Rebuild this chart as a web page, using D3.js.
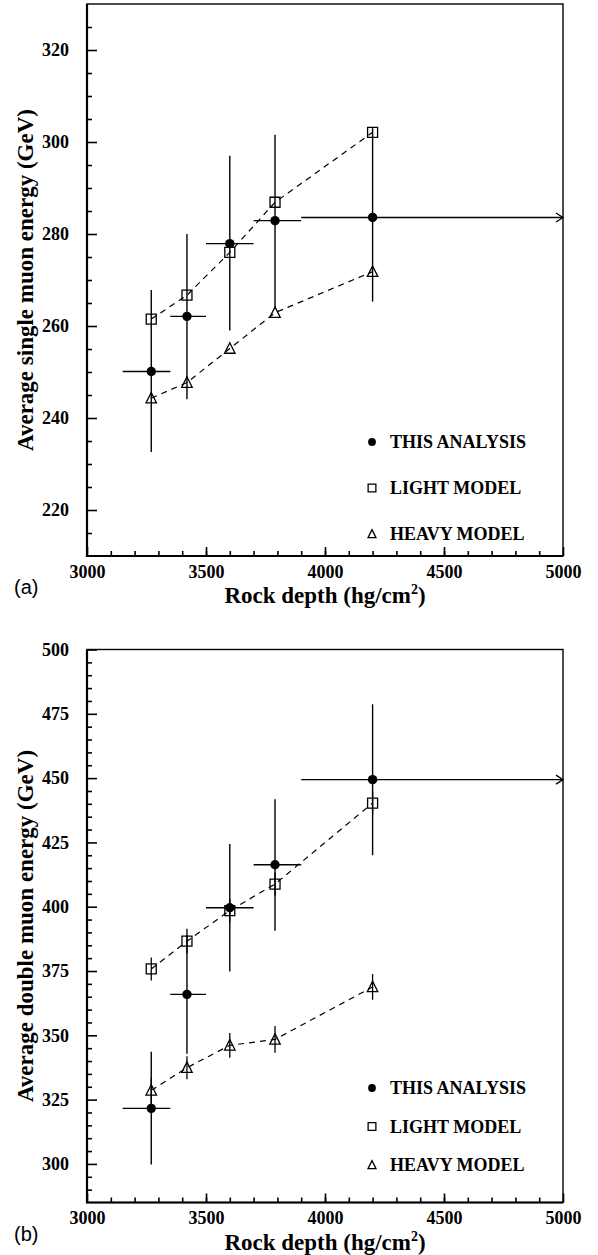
<!doctype html>
<html lang="en">
<head>
    <title>Muon energy vs rock depth</title>
    <script src="https://d3js.org/d3.v7.min.js"></script>
    <style>
        body { margin: 0; background: #fff; }
        svg text { font-family: "Liberation Serif", "Times New Roman", serif; font-weight: bold; fill: #000; }
    </style>
</head>
<body>
<script>
    // ---- Data ----
    const depth   = [3270, 3420, 3600, 3790, 4200];
    const depthLo = [3150, 3350, 3500, 3700, 3900];
    const depthHi = [3350, 3500, 3700, 3900, 5000];   // last bin open ended (arrow)

    // (a) single muons
    const singleData   = [250.1, 262.1, 277.9, 282.9, 283.6];
    const singleErrUp  = [267.8, 280.0, 297.0, 301.6, 303.0];
    const singleErrLo  = [232.6, 244.1, 259.0, 264.0, 265.3];
    const singleLight  = [261.5, 266.7, 276.0, 286.9, 302.1];
    const singleHeavy  = [244.3, 247.7, 255.1, 262.9, 271.8];

    // (b) double muons
    const doubleData     = [321.6, 365.9, 399.6, 416.3, 449.4];
    const doubleErrUp    = [343.6, 389.0, 424.4, 441.8, 478.7];
    const doubleErrLo    = [299.8, 342.8, 374.8, 390.7, 420.0];
    const doubleLight    = [375.8, 386.6, 398.5, 408.8, 440.3];
    const doubleLightErr = [4.5, 4.8, 4.5, 4.5, 4.5];
    const doubleHeavy    = [328.6, 337.4, 346.1, 348.4, 368.8];
    const doubleHeavyErr = [5.0, 4.5, 4.8, 5.2, 5.0];

    const legendLabels = ["THIS ANALYSIS", "LIGHT MODEL", "HEAVY MODEL"];
    const xTicksMajor  = [3000, 3500, 4000, 4500, 5000];

    // open triangle symbol
    const symTriangle = {
        draw(ctx, size) {
            const h = Math.sqrt(size);
            ctx.moveTo(0, -h * 0.55);
            ctx.lineTo(h * 0.5, h * 0.45);
            ctx.lineTo(-h * 0.5, h * 0.45);
            ctx.closePath();
        }
    };

    const svg = d3.select("body").append("svg")
        .attr("width", 598).attr("height", 1255);

    function drawPanel(p) {
        const left = 87, right = 563;
        const x = d3.scaleLinear().domain([3000, 5000]).range([left, right]);
        const y = d3.scaleLinear().domain(p.yDomain).range([p.bottom, p.top]);
        const g = svg.append("g");

        // minor ticks (inside)
        g.append("g").attr("transform", `translate(0,${p.bottom})`)
            .call(d3.axisBottom(x).tickValues(d3.range(3100, 5000, 100)).tickSize(-5).tickFormat(""));
        g.append("g").attr("transform", `translate(${left},0)`)
            .call(d3.axisLeft(y).tickValues(p.yMinor).tickSize(-5).tickFormat(""));
        // major ticks
        g.append("g").attr("class", "xmaj").attr("transform", `translate(0,${p.bottom})`)
            .call(d3.axisBottom(x).tickValues(xTicksMajor).tickSize(-9).tickPadding(12).tickFormat(d3.format("d")));
        g.append("g").attr("class", "ymaj").attr("transform", `translate(${left},0)`)
            .call(d3.axisLeft(y).tickValues(p.yMajor).tickSize(-10).tickPadding(18).tickFormat(d3.format("d")));

        g.selectAll(".domain").remove();
        g.selectAll(".tick line").attr("stroke", "#000").attr("stroke-width", 1.6);
        g.selectAll(".tick text").attr("font-size", 18)
            .attr("font-family", "Liberation Serif").attr("font-weight", "bold");
        g.selectAll(".xmaj .tick text").attr("dy", "0.71em").attr("y", 9);

        // frame
        g.append("rect")
            .attr("x", left).attr("y", p.top)
            .attr("width", right - left).attr("height", p.bottom - p.top)
            .attr("fill", "none").attr("stroke", "#000").attr("stroke-width", 1.4);
        g.append("path")
            .attr("d", `M${left},${p.top}V${p.bottom}H${right}`)
            .attr("fill", "none").attr("stroke", "#000").attr("stroke-width", 2.2);

        // model lines
        const line = d3.line().x((d, i) => x(depth[i])).y(d => y(d));
        [p.light, p.heavy].forEach(s => {
            g.append("path").datum(s)
                .attr("d", line)
                .attr("fill", "none").attr("stroke", "#000")
                .attr("stroke-width", 1.2).attr("stroke-dasharray", "6,5");
        });

        // model error bars (only where given)
        [[p.light, p.lightErr], [p.heavy, p.heavyErr]].forEach(([s, e]) => {
            if (!e) return;
            g.selectAll(null).data(s).enter().append("line")
                .attr("x1", (d, i) => x(depth[i])).attr("x2", (d, i) => x(depth[i]))
                .attr("y1", (d, i) => y(d + e[i])).attr("y2", (d, i) => y(d - e[i]))
                .attr("stroke", "#000").attr("stroke-width", 1.3);
        });

        // data error bars
        g.selectAll(null).data(p.data).enter().append("line")
            .attr("x1", (d, i) => x(depth[i])).attr("x2", (d, i) => x(depth[i]))
            .attr("y1", (d, i) => y(p.errUp[i])).attr("y2", (d, i) => y(p.errLo[i]))
            .attr("stroke", "#000").attr("stroke-width", 1.4);
        g.selectAll(null).data(p.data).enter().append("line")
            .attr("x1", (d, i) => x(depthLo[i])).attr("x2", (d, i) => x(depthHi[i]))
            .attr("y1", d => y(d)).attr("y2", d => y(d))
            .attr("stroke", "#000").attr("stroke-width", 1.4);
        // arrow at open end of last bin
        const last = p.data.length - 1;
        const ax = x(depthHi[last]), ay = y(p.data[last]);
        g.append("path")
            .attr("d", `M${ax - 7},${ay - 4.5}L${ax},${ay}L${ax - 7},${ay + 4.5}`)
            .attr("fill", "none").attr("stroke", "#000").attr("stroke-width", 1.3);

        // markers
        g.selectAll(null).data(p.light).enter().append("path")
            .attr("d", d3.symbol().type(d3.symbolSquare).size(100))
            .attr("transform", (d, i) => `translate(${x(depth[i])},${y(d)})`)
            .attr("fill", "none").attr("stroke", "#000").attr("stroke-width", 1.3);
        g.selectAll(null).data(p.heavy).enter().append("path")
            .attr("d", d3.symbol().type(symTriangle).size(110))
            .attr("transform", (d, i) => `translate(${x(depth[i])},${y(d)})`)
            .attr("fill", "none").attr("stroke", "#000").attr("stroke-width", 1.3);
        g.selectAll(null).data(p.data).enter().append("circle")
            .attr("cx", (d, i) => x(depth[i])).attr("cy", d => y(d))
            .attr("r", 4.7).attr("fill", "#000");

        // legend
        const leg = g.append("g").attr("transform", `translate(372,${p.legendTop})`);
        legendLabels.forEach((lab, i) => {
            const row = leg.append("g").attr("transform", `translate(0,${i * p.legendStep})`);
            if (i === 0) row.append("circle").attr("r", 3.9).attr("fill", "#000");
            if (i === 1) row.append("path").attr("d", d3.symbol().type(d3.symbolSquare).size(60))
                .attr("fill", "none").attr("stroke", "#000").attr("stroke-width", 1.3);
            if (i === 2) row.append("path").attr("d", d3.symbol().type(symTriangle).size(64))
                .attr("fill", "none").attr("stroke", "#000").attr("stroke-width", 1.3);
            row.append("text").attr("x", 18).attr("dy", "0.35em")
                .attr("font-size", 18).text(lab);
        });

        // axis titles
        const xt = g.append("text")
            .attr("x", (left + right) / 2).attr("y", p.bottom + 47)
            .attr("text-anchor", "middle").attr("font-size", 23);
        xt.append("tspan").text("Rock depth (hg/cm");
        xt.append("tspan").attr("font-size", 14).attr("dy", -9).text("2");
        xt.append("tspan").attr("dy", 9).text(")");

        g.append("text")
            .attr("transform", `translate(33,${(p.top + p.bottom) / 2}) rotate(-90)`)
            .attr("text-anchor", "middle").attr("font-size", 23)
            .text(p.yTitle);

        // panel tag
        g.append("text")
            .attr("x", 14).attr("y", p.bottom + 38)
            .style("font-family", "'Liberation Sans', Arial, sans-serif")
            .style("font-weight", "normal")
            .attr("font-size", 20).text(p.tag);
    }

    drawPanel({
        top: 4, bottom: 556,
        yDomain: [210, 330],
        yMajor: d3.range(220, 330, 20),
        yMinor: d3.range(215, 330, 5).filter(v => v % 20 !== 0),
        data: singleData, errUp: singleErrUp, errLo: singleErrLo,
        light: singleLight, heavy: singleHeavy,
        legendTop: 442, legendStep: 46,
        yTitle: "Average single muon energy (GeV)", tag: "(a)"
    });

    drawPanel({
        top: 649.5, bottom: 1202.5,
        yDomain: [285, 500],
        yMajor: d3.range(300, 501, 25),
        yMinor: d3.range(290, 500, 5).filter(v => v % 25 !== 0),
        data: doubleData, errUp: doubleErrUp, errLo: doubleErrLo,
        light: doubleLight, heavy: doubleHeavy,
        lightErr: doubleLightErr, heavyErr: doubleHeavyErr,
        legendTop: 1088, legendStep: 38.5,
        yTitle: "Average double muon energy (GeV)", tag: "(b)"
    });
</script>
</body>
</html>
